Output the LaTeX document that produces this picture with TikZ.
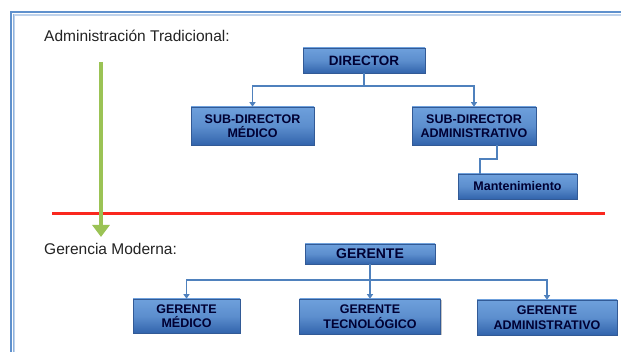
\documentclass[tikz,border=0pt]{standalone}
\usepackage{fontspec}
\setmainfont{Liberation Sans}
\usetikzlibrary{arrows.meta,shadows}
\definecolor{boxtop}{RGB}{110,160,220}
\definecolor{boxbot}{RGB}{50,100,172}
\definecolor{boxedge}{RGB}{50,90,150}
\definecolor{linkblue}{RGB}{79,129,189}
\definecolor{framedark}{RGB}{95,145,205}
\definecolor{framelight}{RGB}{190,210,235}
\definecolor{greenarrow}{RGB}{155,195,85}
\definecolor{redline}{RGB}{250,40,30}
\definecolor{labeltext}{RGB}{35,35,35}
\tikzset{
  orgbox/.style={rectangle, top color=boxtop, bottom color=boxbot, middle color=boxtop!70!boxbot,
    draw=boxedge, line width=0.6pt, drop shadow={shadow xshift=1.2pt, shadow yshift=-1.5pt, opacity=0.45},
    font=\fontsize{12.5}{14.5}\selectfont\bfseries, text=black!80!blue, align=center, inner sep=1pt},
  bigtext/.style={font=\fontsize{13.5}{15}\selectfont\bfseries},
  link/.style={draw=linkblue, line width=1.8pt},
  linkarrow/.style={link, -{Triangle[width=6pt,length=4.5pt]}},
  heading/.style={font=\fontsize{15.5}{17}\selectfont, text=labeltext, anchor=west, inner sep=0pt}
}
\begin{document}
\begin{tikzpicture}[x=1pt,y=-1pt]
\useasboundingbox (0,0) rectangle (621,352);
\fill[white] (0,0) rectangle (621,352);
% slide frame
\draw[framelight, line width=2pt] (14,360) -- (14,15) -- (630,15);
\draw[framedark, line width=1.2pt] (11,360) -- (11,12) -- (630,12);
\draw[framedark!70, line width=0.8pt] (13,360) -- (13,14);

% headings
\node[heading] (h1) at (44,36) {Administración Tradicional:};
\node[heading] (h2) at (44,249) {Gerencia Moderna:};

% separator and transition arrow
\coordinate (r1) at (52,214);
\coordinate (r2) at (605,214);
\draw[redline, line width=3pt] (r1) -- (r2);
\coordinate (g1) at (101,62);
\coordinate (g2) at (101,237);
\draw[greenarrow, line width=3.2pt, -{Triangle[width=17pt,length=12pt]}] (g1) -- (g2);

% traditional structure
\node[orgbox, bigtext, minimum width=122pt, minimum height=25pt] (dir) at (364,60.5) {DIRECTOR};
\node[orgbox, minimum width=123pt, minimum height=38pt] (sdm) at (252.5,126) {SUB-DIRECTOR\\MÉDICO};
\node[orgbox, minimum width=124pt, minimum height=38pt] (sda) at (474,126) {SUB-DIRECTOR\\ADMINISTRATIVO};
\node[orgbox, minimum width=119pt, minimum height=25pt] (man) at (517.5,186.5) {Mantenimiento};

\coordinate (j1) at (364,86);
\draw[linkarrow] (dir.south) -- (j1) -| (sdm.north);
\draw[linkarrow] (dir.south) -- (j1) -| (sda.north);
\coordinate (k1) at (497,159);
\coordinate (k2) at (480,159);
\draw[link, line width=1.2pt] (sda.south -| k1) -- (k1) -- (k2) -- (k2 |- man.north);

% modern structure
\node[orgbox, font=\fontsize{14}{15}\selectfont\bfseries, minimum width=130pt, minimum height=20pt] (ger) at (370,254) {GERENTE};
\node[orgbox, minimum width=107pt, minimum height=34pt] (gm) at (186.5,316) {GERENTE\\MÉDICO};
\node[orgbox, minimum width=141pt, minimum height=35pt] (gt) at (370,316.5) {GERENTE\\TECNOLÓGICO};
\node[orgbox, minimum width=140pt, minimum height=35pt] (ga) at (547,317.5) {GERENTE\\ADMINISTRATIVO};

\coordinate (j2) at (370,280);
\draw[linkarrow] (ger.south) -- (j2) -| (gm.north);
\draw[linkarrow] (ger.south) -- (gt.north);
\draw[linkarrow] (ger.south) -- (j2) -| (ga.north);
\end{tikzpicture}
\end{document}
